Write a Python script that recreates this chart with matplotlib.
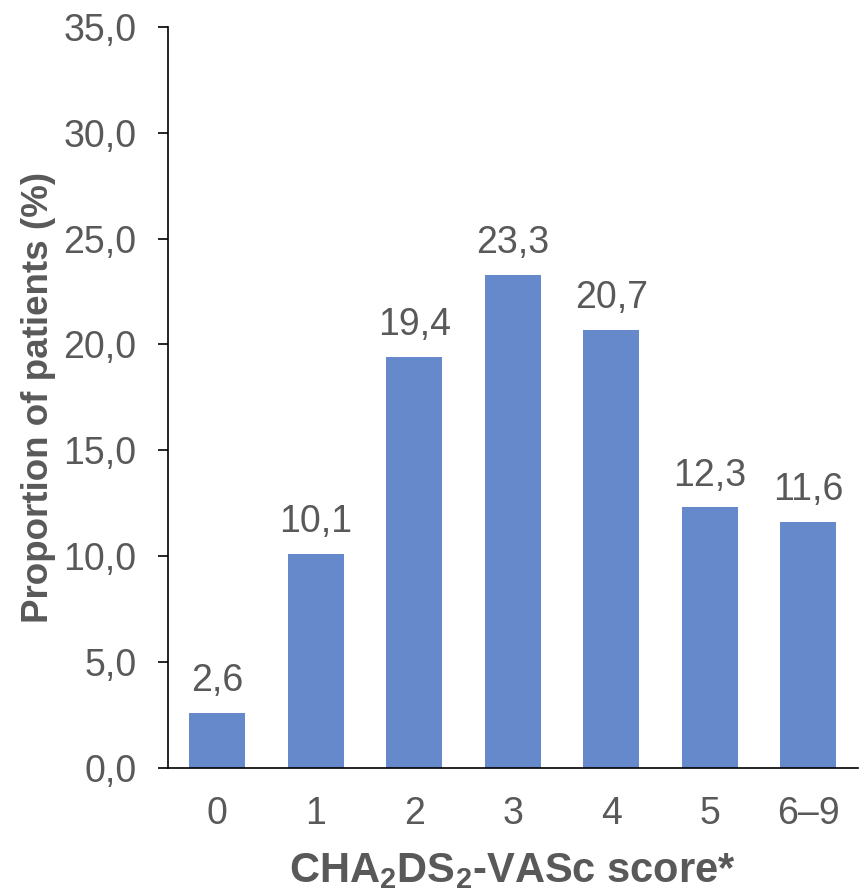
import matplotlib.pyplot as plt
import numpy as np

# CHA2DS2-VASc score distribution
scores = ["0", "1", "2", "3", "4", "5", "6\u20139"]
proportion = [2.6, 10.1, 19.4, 23.3, 20.7, 12.3, 11.6]
yticks = [0, 5, 10, 15, 20, 25, 30, 35]

grey = "#595959"
bar_col = "#6689CC"

plt.rcParams["font.family"] = ["Liberation Sans", "DejaVu Sans"]
plt.rcParams["mathtext.fontset"] = "custom"
plt.rcParams["mathtext.rm"] = "Liberation Sans"
plt.rcParams["mathtext.bf"] = "Liberation Sans:bold"

fig = plt.figure(figsize=(8.61, 8.96), dpi=100)
ax = fig.add_axes([0.195, 0.143, 0.801, 0.827])

x = np.arange(len(scores))
ax.bar(x, proportion, width=0.57, color=bar_col)

for xi, v in zip(x, proportion):
    ax.annotate(f"{v:.1f}".replace(".", ","), (xi, v), xytext=(0, 10),
                textcoords="offset points", ha="center", va="bottom",
                fontsize=27, color=grey)

ax.set_xlim(-0.5, 6.5)
ax.set_ylim(0, 35)
ax.set_yticks(yticks)
ax.set_yticklabels([f"{t:.1f}".replace(".", ",") for t in yticks])
ax.set_xticks(x)
ax.set_xticklabels(scores)

ax.tick_params(axis="y", direction="out", length=7.5, width=1.2, colors="black",
               labelcolor=grey, labelsize=27, pad=15)
ax.tick_params(axis="x", length=0, labelcolor=grey, labelsize=27, pad=20)

for s in ["top", "right"]:
    ax.spines[s].set_visible(False)
ax.spines["left"].set_linewidth(1.2)
ax.spines["bottom"].set_linewidth(1.2)

ax.set_ylabel("Proportion of patients (%)", fontsize=26.5, fontweight="bold",
              color=grey, labelpad=5.5)
ax.set_xlabel(r"CHA$_\mathbf{2}$DS$_\mathbf{2}$-VASc score*", fontsize=30,
              fontweight="bold", color=grey, labelpad=14)

plt.savefig("out.png", dpi=100)
